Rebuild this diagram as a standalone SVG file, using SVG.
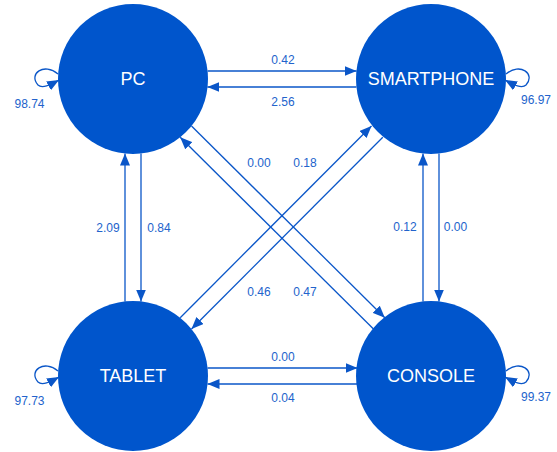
<svg xmlns="http://www.w3.org/2000/svg" width="557" height="452" viewBox="0 0 557 452">
<defs>
<marker id="ah" markerWidth="12" markerHeight="10" refX="12" refY="5" orient="auto" markerUnits="userSpaceOnUse">
<path d="M0,0 L12,5 L0,10 Z" fill="#0a56c8"/>
</marker>
<style>
.node circle{fill:#0055cc;}
.node text{fill:#ffffff;font-family:"Liberation Sans",Arial,sans-serif;font-size:18px;text-anchor:middle;}
.edge{stroke:#0a56c8;stroke-width:1.3;fill:none;marker-end:url(#ah);}
.lbl{fill:#2263cc;font-family:"Liberation Sans",Arial,sans-serif;font-size:12px;text-anchor:middle;}
</style>
</defs>
<rect width="557" height="452" fill="#ffffff"/>
<g id="connectors">
<path class="edge" d="M207.6,71 L356.6,71"/>
<path class="edge" d="M356.4,87 L207.4,87"/>
<path class="edge" d="M207.6,368 L357.5,368"/>
<path class="edge" d="M357.5,384 L207.5,384"/>
<path class="edge" d="M125,301.5 L125,153.5"/>
<path class="edge" d="M141,153.5 L141,301.5"/>
<path class="edge" d="M423,301.5 L423,153.5"/>
<path class="edge" d="M439,153.5 L439,301.5"/>
<path class="edge" d="M191.5,126 L384.8,317.7"/>
<path class="edge" d="M373.5,329 L180.2,137.3"/>
<path class="edge" d="M382.8,137.3 L191.5,329"/>
<path class="edge" d="M180.2,317.7 L371.5,126"/>
<path class="edge" d="M58,74 C44,62 28,74 38,85 C42,89 50,85 59,80"/>
<path class="edge" d="M506,74 C520,62 536,74 526,85 C522,89 514,85 505,80"/>
<path class="edge" d="M58,371 C44,359 28,371 38,382 C42,386 50,382 59,377"/>
<path class="edge" d="M506,371 C520,359 536,371 526,382 C522,386 514,382 505,377"/>
</g>
<g id="labels">
<text class="lbl" x="283" y="64">0.42</text>
<text class="lbl" x="283" y="106">2.56</text>
<text class="lbl" x="283" y="361">0.00</text>
<text class="lbl" x="283" y="402">0.04</text>
<text class="lbl" x="108" y="231.5">2.09</text>
<text class="lbl" x="159" y="231.5">0.84</text>
<text class="lbl" x="405" y="231">0.12</text>
<text class="lbl" x="455.5" y="231">0.00</text>
<text class="lbl" x="259" y="167">0.00</text>
<text class="lbl" x="305" y="167">0.18</text>
<text class="lbl" x="259" y="296">0.46</text>
<text class="lbl" x="305" y="296">0.47</text>
<text class="lbl" x="29.5" y="108">98.74</text>
<text class="lbl" x="536" y="104">96.97</text>
<text class="lbl" x="29.5" y="405">97.73</text>
<text class="lbl" x="536" y="400.5">99.37</text>
</g>
<g id="PC" class="node"><circle cx="133" cy="79" r="75"/><text x="133" y="84.5">PC</text></g>
<g id="SMARTPHONE" class="node"><circle cx="431" cy="79" r="75"/><text x="431" y="84.5">SMARTPHONE</text></g>
<g id="TABLET" class="node"><circle cx="133" cy="376" r="75"/><text x="133" y="382">TABLET</text></g>
<g id="CONSOLE" class="node"><circle cx="431" cy="376" r="75"/><text x="431" y="382">CONSOLE</text></g>
</svg>
